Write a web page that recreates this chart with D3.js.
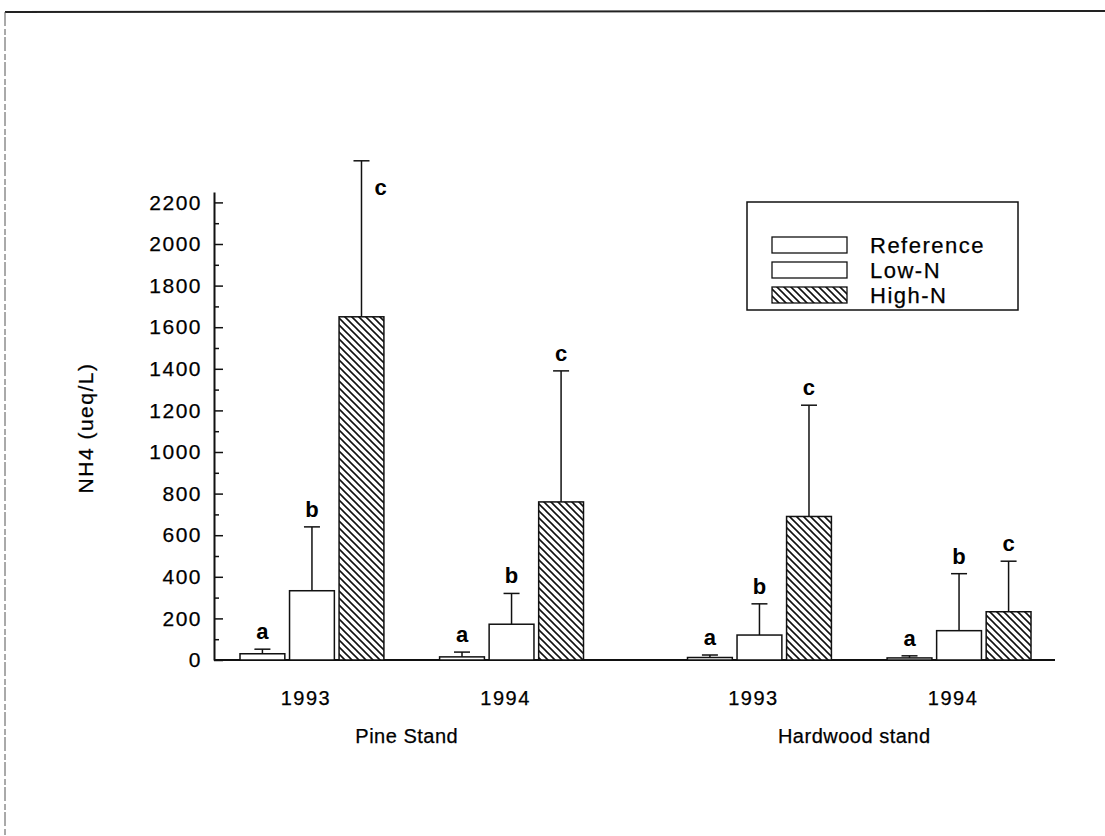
<!DOCTYPE html>
<html>
<head>
<meta charset="utf-8">
<script src="https://cdn.jsdelivr.net/npm/d3@7"></script>
<style>
  html, body { margin: 0; padding: 0; background: #fff; }
  svg text { font-family: "Liberation Sans", Arial, Helvetica, sans-serif; fill: #000; stroke: #000; stroke-width: 0.25px; }
</style>
</head>
<body>
<svg id="chart" width="1105" height="836"></svg>
<script>
// Stands, years and treatments
const stands = ["Pine Stand", "Hardwood stand"];
const years = ["1993", "1994"];
const treatments = ["Reference", "Low-N", "High-N"];

// NH4 (ueq/L) per stand-year: Pine 1993, Pine 1994, Hardwood 1993, Hardwood 1994
const referenceMean = [30, 15, 12, 10];
const referenceUpper = [52, 38, 24, 20];
const lowNMean = [333, 172, 120, 141];
const lowNUpper = [640, 320, 270, 415];
const highNMean = [1650, 760, 690, 232];
const highNUpper = [2400, 1390, 1225, 475];

// Significance letters
const referenceLetters = ["a", "a", "a", "a"];
const lowNLetters = ["b", "b", "b", "b"];
const highNLetters = ["c", "c", "c", "c"];

// Y axis ticks
const majorTicks = [0, 200, 400, 600, 800, 1000, 1200, 1400, 1600, 1800, 2000, 2200];
const minorTicks = [100, 300, 500, 700, 900, 1100, 1300, 1500, 1700, 1900, 2100];

const svg = d3.select("#chart");
const plot = { left: 214, right: 1055, top: 192, bottom: 660 };

// page frame
svg.append("line").attr("x1", 5).attr("y1", 12).attr("x2", 1105).attr("y2", 11)
  .attr("stroke", "#222").attr("stroke-width", 2);
svg.append("line").attr("x1", 5).attr("y1", 12).attr("x2", 5).attr("y2", 836)
  .attr("stroke", "#555").attr("stroke-width", 1).attr("stroke-dasharray", "14 3 6 2");

// hatch pattern for High-N
const defs = svg.append("defs");
const pat = defs.append("pattern").attr("id", "hatch")
  .attr("patternUnits", "userSpaceOnUse").attr("width", 7).attr("height", 7);
pat.append("rect").attr("width", 7).attr("height", 7).attr("fill", "#fff");
pat.append("path").attr("d", "M-2,-2 L9,9 M-2,5 L2,9 M5,-2 L9,2")
  .attr("stroke", "#111").attr("stroke-width", 1.6);

// build records
const records = [];
stands.forEach((s, si) => years.forEach((yr, yi) => {
  const i = si * years.length + yi;
  const vals = [
    [referenceMean[i], referenceUpper[i], referenceLetters[i]],
    [lowNMean[i], lowNUpper[i], lowNLetters[i]],
    [highNMean[i], highNUpper[i], highNLetters[i]]
  ];
  treatments.forEach((t, ti) => records.push({
    stand: s, year: yr, treatment: t,
    mean: vals[ti][0], upper: vals[ti][1], letter: vals[ti][2]
  }));
}));

// scales
const y = d3.scaleLinear().domain([0, 2250]).range([plot.bottom, plot.top]);
const xStand = d3.scaleBand().domain(stands).range([240, 1031]).paddingInner(0.2324);
const xYear = d3.scaleBand().domain(years).range([0, xStand.bandwidth()]).paddingInner(0.279);
const xTreat = d3.scaleBand().domain(treatments).range([0, xYear.bandwidth()]).paddingInner(0.095);
const barX = d => xStand(d.stand) + xYear(d.year) + xTreat(d.treatment);
const bw = xTreat.bandwidth();

// y axis
const yAxis = d3.axisLeft(y).tickValues(majorTicks).tickFormat(d3.format("d"))
  .tickSizeInner(-9).tickSizeOuter(0).tickPadding(12);
const gy = svg.append("g").attr("transform", `translate(${plot.left},0)`).call(yAxis);
gy.select(".domain").attr("stroke", "#111").attr("stroke-width", 2);
gy.selectAll(".tick line").attr("stroke", "#111").attr("stroke-width", 1.5);
gy.selectAll(".tick text").attr("font-size", 21).attr("letter-spacing", 1.5)
  .attr("fill", "#000").style("font-family", '"Liberation Sans", Arial, sans-serif');
const gMinor = svg.append("g").attr("transform", `translate(${plot.left},0)`)
  .call(d3.axisLeft(y).tickValues(minorTicks).tickSizeInner(-5).tickSizeOuter(0).tickFormat(""));
gMinor.select(".domain").remove();
gMinor.selectAll(".tick line").attr("stroke", "#111").attr("stroke-width", 1.5);

// x baseline
svg.append("line").attr("x1", plot.left).attr("x2", plot.right)
  .attr("y1", y(0)).attr("y2", y(0)).attr("stroke", "#111").attr("stroke-width", 2.2);

// error bars
const eb = svg.append("g").attr("stroke", "#111").attr("stroke-width", 1.5);
records.forEach(d => {
  const cx = barX(d) + bw / 2;
  eb.append("line").attr("x1", cx).attr("x2", cx).attr("y1", y(d.mean)).attr("y2", y(d.upper));
  eb.append("line").attr("x1", cx - 8).attr("x2", cx + 8).attr("y1", y(d.upper)).attr("y2", y(d.upper));
});

// bars
svg.append("g").selectAll("rect").data(records).join("rect")
  .attr("x", barX).attr("width", bw)
  .attr("y", d => y(d.mean)).attr("height", d => y(0) - y(d.mean))
  .attr("fill", d => d.treatment === "High-N" ? "url(#hatch)" : "#fff")
  .attr("stroke", "#111").attr("stroke-width", 1.5);

// significance letters
svg.append("g").selectAll("text").data(records).join("text")
  .attr("x", d => {
    const cx = barX(d) + bw / 2;
    return y(d.upper) < plot.top ? cx + 13 : cx;
  })
  .attr("y", d => y(d.upper) < plot.top ? y(d.upper) + 34 : y(d.upper) - 10)
  .attr("text-anchor", d => y(d.upper) < plot.top ? "start" : "middle")
  .attr("font-size", 22).attr("font-weight", "bold").style("stroke-width", 0)
  .text(d => d.letter);

// year labels
const yearLabels = [];
stands.forEach(s => years.forEach(yr => yearLabels.push({ stand: s, year: yr })));
svg.append("g").selectAll("text").data(yearLabels).join("text")
  .attr("x", d => xStand(d.stand) + xYear(d.year) + xYear.bandwidth() / 2 - 6)
  .attr("y", 705).attr("text-anchor", "middle")
  .attr("font-size", 20).attr("letter-spacing", 1.5)
  .text(d => d.year);

// stand labels
svg.append("g").selectAll("text").data(stands).join("text")
  .attr("x", d => xStand(d) + xStand.bandwidth() / 2 - 5)
  .attr("y", 743).attr("text-anchor", "middle")
  .attr("font-size", 20).attr("letter-spacing", 0.5)
  .text(d => d);

// y axis title
svg.append("text").attr("transform", "translate(93,428) rotate(-90)")
  .attr("text-anchor", "middle").attr("font-size", 21).attr("letter-spacing", 1.5)
  .text("NH4 (ueq/L)");

// legend
const lg = svg.append("g");
lg.append("rect").attr("x", 747).attr("y", 202).attr("width", 271).attr("height", 108)
  .attr("fill", "#fff").attr("stroke", "#111").attr("stroke-width", 1.5);
const rowY = d3.scalePoint().domain(treatments).range([245, 295]);
treatments.forEach(t => {
  lg.append("rect").attr("x", 772).attr("y", rowY(t) - 8).attr("width", 75).attr("height", 16)
    .attr("fill", t === "High-N" ? "url(#hatch)" : "#fff")
    .attr("stroke", "#111").attr("stroke-width", 1.3);
  lg.append("text").attr("x", 870).attr("y", rowY(t) + 8)
    .attr("font-size", 22).attr("letter-spacing", 1.5).text(t);
});
</script>
</body>
</html>
